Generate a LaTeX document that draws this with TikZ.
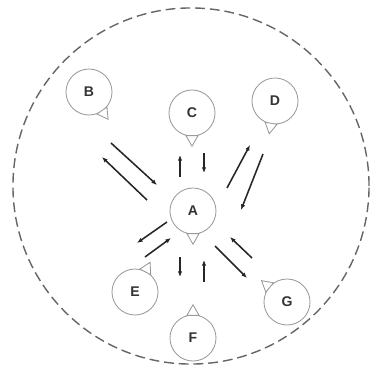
\documentclass[tikz,border=0pt]{standalone}
\usepackage{fontspec}
\setmainfont{Liberation Sans}
\usetikzlibrary{arrows.meta,calc}
\definecolor{ringgray}{HTML}{666666}
\definecolor{nodegray}{HTML}{9A9A9A}
\definecolor{arrowgray}{HTML}{262626}

\begin{document}
\begin{tikzpicture}[x=0.025cm,y=-0.025cm,
  agent/.style={circle,draw=nodegray,line width=0.6pt,minimum size=1.15cm,inner sep=0pt,
    font=\fontsize{10}{12}\selectfont\bfseries,text=black!80},
  pin/.style={draw=nodegray,line width=0.6pt,fill=white},
  msg/.style={draw=arrowgray,line width=1.1pt,-{Latex[length=4pt,width=3.2pt]}}]
  \useasboundingbox (0,0) rectangle (370,370);
  % outer boundary
  \draw[ringgray,line width=1pt,dash pattern=on 7pt off 3.5pt] (191,186) circle[radius=4.45cm];
  % agents
  \node[agent] (A) at (193,211) {A};
  \node[agent] (B) at (89,92) {B};
  \node[agent] (C) at (192,113) {C};
  \node[agent] (D) at (275,101) {D};
  \node[agent] (E) at (135,292) {E};
  \node[agent] (F) at (193,338) {F};
  \node[agent] (G) at (287,302) {G};
  % pins on the agents
  \foreach \n/\a in {A/-90,B/-55,C/-90,D/-100,E/63,F/90,G/140}
    \draw[pin] ($(\n.center)!1!15:(\n.\a)$) -- ($(\n.center)!1.42!(\n.\a)$)
      -- ($(\n.center)!1!-15:(\n.\a)$) -- cycle;
  % messages, one pair per agent
  \draw[msg] ([shift={(22,51)}]B.center) -- ([shift={(-36,-26)}]A.center);
  \draw[msg] ([shift={(-46,-11)}]A.center) -- ([shift={(13,65)}]B.center);
  \draw[msg] ([shift={(-13,-34)}]A.center) -- ([shift={(-12,42)}]C.center);
  \draw[msg] ([shift={(12,40)}]C.center) -- ([shift={(11,-38)}]A.center);
  \draw[msg] ([shift={(34,-23)}]A.center) -- ([shift={(-25,44)}]D.center);
  \draw[msg] ([shift={(-12,53)}]D.center) -- ([shift={(48,-1)}]A.center);
  \draw[msg] ([shift={(-26,11)}]A.center) -- ([shift={(2,-49)}]E.center);
  \draw[msg] ([shift={(10,-35)}]E.center) -- ([shift={(-22,27)}]A.center);
  \draw[msg] ([shift={(-13,46)}]A.center) -- ([shift={(-13,-61)}]F.center);
  \draw[msg] ([shift={(11,-56)}]F.center) -- ([shift={(11,49)}]A.center);
  \draw[msg] ([shift={(-35,-44)}]G.center) -- ([shift={(37,26)}]A.center);
  \draw[msg] ([shift={(22,35)}]A.center) -- ([shift={(-40,-24)}]G.center);
\end{tikzpicture}
\end{document}
